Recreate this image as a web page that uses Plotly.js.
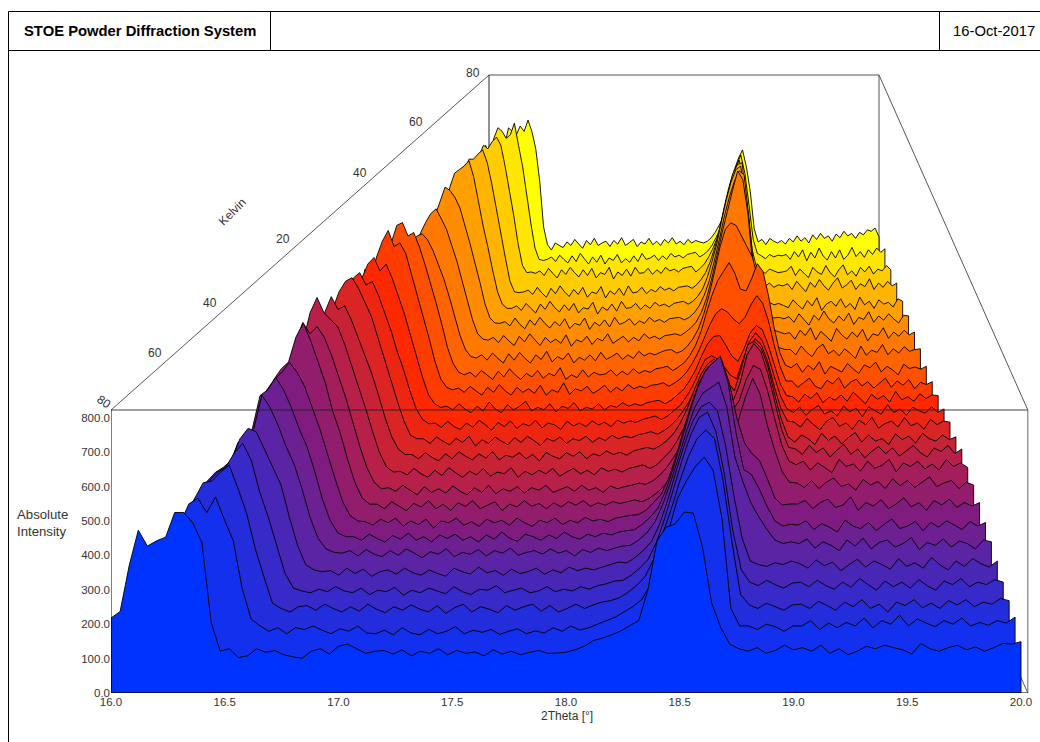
<!DOCTYPE html>
<html><head><meta charset="utf-8">
<script src="https://cdn.plot.ly/plotly-3.0.1.min.js"></script>
<style>html,body{margin:0;padding:0;background:#fff}#c{width:1040px;height:742px}</style></head>
<body><div id="c"></div><script>
const twoTheta=[16.00,16.04,16.08,16.12,16.16,16.20,16.24,16.28,16.32,16.36,16.40,16.44,16.48,16.52,16.56,16.60,16.64,16.68,16.72,
16.76,16.80,16.84,16.88,16.92,16.96,17.00,17.04,17.08,17.12,17.16,17.20,17.24,17.28,17.32,17.36,17.40,17.44,17.48,17.52,17.56,17.60,17.64,17.68,17.72,17.76,17.80,17.84,17.88,17.92,17.96,18.00,18.04,18.08,18.12,18.16,
18.20,18.24,18.28,18.32,18.36,18.40,18.44,18.48,18.52,18.56,18.60,18.64,18.68,18.72,18.76,18.80,18.84,18.88,18.92,18.96,19.00,
19.04,19.08,19.12,19.16,19.20,19.24,19.28,19.32,19.36,19.40,19.44,19.48,19.52,19.56,19.60,19.64,19.68,19.72,19.76,19.80,19.84,19.88,19.92,19.96,20.00];
const s00=[212,230,360,460,415,430,440,510,510,480,424,200,118,125,100,105,125,115,120,
108,102,98,118,125,110,132,138,125,112,118,120,110,122,105,118,112,125,108,120,112,116,105,122,110,118,108,115,120,112,113,115,122,132,148,155,
164,175,190,205,291,430,468,478,511,508,412,255,185,138,125,118,128,112,120,135,122,
128,118,135,112,125,108,118,132,125,135,128,122,110,140,125,118,128,135,122,130,118,128,140,138,145];
const s01=[215,225,340,380,385,400,440,495,511,470,514,450,390,255,170,150,135,145,128,
145,140,150,138,128,142,135,150,130,128,138,125,145,130,125,140,128,135,148,128,138,132,140,126,135,142,128,136,130,145,135,150,138,145,155,165,
175,190,205,225,270,330,420,510,560,600,627,590,455,200,150,150,140,155,148,135,150,
150,165,140,158,145,160,150,172,145,165,155,180,150,170,158,148,165,155,172,150,160,152,165,158,175];
const s02=[220,235,300,345,370,430,470,515,520,545,565,500,430,330,250,175,160,150,165,
168,155,172,160,150,165,152,172,158,148,165,155,170,158,150,168,146,162,172,150,165,158,148,168,155,165,172,152,168,150,160,172,160,170,178,182,
190,205,225,250,300,370,440,520,590,640,664,640,520,350,200,170,160,175,165,155,170,
172,160,180,168,155,178,165,185,160,172,150,178,168,185,162,175,160,182,170,185,165,178,172,188,182];
const s03=[225,240,300,360,420,450,480,505,520,560,587,540,450,380,300,220,178,170,165,
175,168,182,170,165,178,160,172,168,180,158,172,165,178,170,162,182,168,160,175,172,185,165,172,178,165,170,182,168,175,170,182,175,185,190,198,
200,215,235,260,310,380,460,540,610,660,675,620,500,340,230,195,185,200,188,178,192,
195,182,200,185,175,195,180,205,188,172,198,182,195,178,202,185,172,198,188,205,182,195,188,202,195];
const s04=[230,260,340,400,440,465,480,500,560,590,580,530,480,430,340,260,205,190,185,
188,175,195,180,192,172,185,190,178,195,182,175,190,180,172,195,185,178,198,182,188,175,192,180,185,195,178,190,182,198,188,195,190,198,205,212,
210,225,245,270,320,390,470,545,610,650,664,640,540,400,280,215,205,200,210,205,215,
208,195,218,202,212,188,205,220,198,215,205,192,222,200,210,195,225,205,190,215,200,222,208,198,215];
const s05=[235,250,350,410,435,450,510,530,550,644,610,560,500,450,380,300,240,210,200,
198,205,190,208,195,188,205,192,210,198,185,202,195,210,188,200,195,208,190,205,198,212,192,200,205,195,210,198,205,190,208,200,212,205,212,218,
220,235,255,285,335,400,470,545,610,650,665,681,610,470,400,340,300,265,235,225,230,
225,238,212,230,220,205,235,218,240,210,228,235,215,225,242,208,228,220,238,215,232,225,210,235,230];
const s06=[240,255,350,395,420,480,510,604,620,655,620,570,510,460,390,310,250,215,205,
205,195,212,200,190,208,198,215,195,205,190,210,200,212,195,205,190,210,198,218,200,192,212,205,195,210,200,218,205,198,212,205,215,210,218,222,
225,240,260,285,335,400,475,550,620,670,695,715,640,500,395,380,340,290,250,235,240,
238,250,225,242,232,218,252,235,228,245,222,240,255,228,235,248,222,245,232,250,238,225,248,235,245];
const s07=[240,260,360,420,450,510,580,610,630,658,630,590,530,470,400,330,265,225,210,
208,198,215,205,218,195,210,200,215,190,210,205,218,198,208,195,215,205,212,198,218,205,195,212,205,218,200,212,205,220,210,215,208,218,222,226,
228,240,262,285,330,395,470,540,600,640,660,665,600,500,430,400,380,330,275,255,258,
258,268,245,262,272,248,255,278,240,262,252,270,245,258,275,250,262,240,268,255,272,248,262,252,262];
const s08=[250,270,400,500,520,570,600,620,690,729,680,620,560,480,420,345,280,235,218,
218,205,225,212,200,220,210,228,205,218,200,222,212,228,205,215,225,200,218,210,228,212,220,205,222,210,225,215,228,212,222,215,225,220,225,230,
225,235,250,270,300,340,400,470,530,553,530,480,440,450,520,573,530,440,370,310,280,
278,265,285,262,280,292,268,275,258,288,272,282,262,290,270,285,265,280,295,268,278,285,262,280,272];
const s09=[250,275,410,530,530,570,640,692,660,680,650,600,540,480,410,340,280,240,222,
225,215,232,218,205,228,212,222,210,230,215,205,225,212,232,208,222,215,228,210,225,218,232,212,220,228,215,232,218,225,212,230,222,228,232,238,
235,245,262,285,315,350,410,470,520,545,530,480,440,470,530,570,560,500,420,345,300,
290,300,275,295,282,268,305,285,292,272,300,280,288,305,270,295,285,300,278,292,275,305,285,295,282];
const s10=[255,280,420,530,540,600,680,723,680,660,640,590,530,470,410,345,285,245,230,
232,222,240,225,215,235,220,242,228,215,232,222,240,218,230,225,242,215,232,222,235,225,240,218,230,240,225,235,222,242,232,238,230,240,245,250,
240,250,270,290,320,360,415,465,510,530,510,465,430,480,560,593,570,510,430,350,300,
295,280,305,285,298,272,292,308,280,295,270,288,302,282,298,275,290,305,285,272,298,288,305,282,295];
const s11=[260,280,420,570,540,590,640,686,650,660,620,570,520,470,410,345,290,255,240,
240,228,245,232,222,242,228,248,235,225,242,230,248,225,238,232,245,228,240,222,246,235,228,245,235,248,228,242,236,250,240,246,238,250,255,260,
255,265,280,300,330,370,420,465,495,510,490,445,420,480,550,560,540,490,410,340,290,
275,295,285,268,300,280,292,270,288,302,275,295,278,285,268,298,282,292,272,300,285,278,295,282,290];
const s12=[260,285,430,590,550,610,660,690,700,670,630,590,530,470,410,350,295,255,245,
245,232,250,238,228,246,235,252,225,242,232,250,238,228,248,235,252,240,226,246,238,250,232,245,240,252,235,248,240,255,245,252,248,256,260,265,
258,268,282,300,325,355,390,420,424,415,400,390,380,430,490,528,510,460,390,330,295,
292,278,302,285,270,295,305,280,290,272,298,285,305,275,288,295,278,305,282,290,272,300,285,295,292];
const s13=[265,290,425,580,545,610,660,675,640,650,610,560,510,450,400,340,290,260,248,
250,238,255,240,232,250,238,258,245,230,252,240,256,235,248,242,258,236,250,245,232,255,242,250,240,256,245,252,240,258,250,256,252,260,265,270,
260,270,285,300,325,355,395,430,440,430,410,385,375,430,480,505,485,440,380,325,290,
280,295,272,288,300,275,285,270,298,282,292,268,296,285,275,302,280,290,272,295,285,278,296,280,290];
const s14=[270,295,430,585,550,620,660,678,640,660,620,570,520,460,400,340,290,265,255,
258,248,265,250,240,258,245,270,250,240,262,248,258,272,245,255,248,265,242,258,252,268,245,255,250,265,248,260,255,268,258,265,260,268,272,275,
265,275,290,305,330,360,400,435,455,458,430,400,385,420,465,486,475,430,375,320,288,
285,270,292,280,296,268,284,275,290,272,298,282,265,292,278,288,270,300,276,285,272,293,280,290,288];
const s15=[280,300,440,605,570,640,685,715,670,680,650,590,530,470,410,345,295,272,265,
270,258,275,262,250,272,258,280,262,250,272,258,268,255,278,250,265,258,285,252,268,262,275,255,265,278,258,272,262,280,268,275,270,278,280,285,
275,285,297,315,340,372,410,450,480,494,485,465,452,470,505,531,510,460,390,330,290,
290,272,285,298,275,268,292,282,300,270,286,295,276,288,270,284,298,272,290,278,294,268,286,280,288];
const s16=[285,305,440,600,570,640,690,698,660,670,630,580,525,470,410,345,300,275,268,
275,262,280,268,255,278,262,285,268,255,272,262,280,258,272,265,288,255,268,260,282,262,275,268,270,282,265,278,268,285,272,280,275,285,288,292,
280,290,302,322,350,390,445,495,535,560,585,555,510,505,540,582,560,490,400,330,295,
288,300,275,295,282,305,270,292,284,276,300,285,272,296,288,304,276,292,282,268,298,286,290,284,292];
const s17=[290,310,430,550,530,570,600,620,627,610,580,540,500,450,395,340,300,280,276,
285,270,290,275,262,288,270,292,275,262,285,272,295,265,280,272,290,262,278,270,285,268,292,272,280,290,272,285,275,295,282,290,285,292,298,300,
290,296,310,330,358,400,455,520,590,640,658,650,620,590,560,500,420,345,320,305,300,
300,285,310,292,280,304,315,288,298,282,302,290,275,310,284,298,292,314,285,302,290,308,295,300,302];
const s18=[295,315,440,570,540,590,620,645,658,630,600,555,510,455,400,345,305,290,287,
295,280,300,285,272,298,282,305,288,272,295,280,290,278,302,270,288,282,298,275,292,285,305,278,288,298,282,295,285,305,292,298,290,300,302,305,
300,310,322,338,365,405,460,525,590,650,710,765,740,640,480,390,340,320,315,310,305,
308,290,315,300,322,288,312,298,284,320,302,290,310,296,318,285,305,300,322,292,310,298,315,302,310];
const s19=[300,325,450,550,560,600,640,680,670,650,620,570,520,465,410,350,310,296,295,
300,288,310,292,280,305,290,312,295,282,300,288,308,280,295,290,310,278,298,288,305,285,312,292,298,308,290,302,295,312,300,306,298,308,310,312,
305,312,325,345,375,415,470,530,595,650,695,726,715,590,440,350,325,315,310,312,308,
314,298,322,306,290,318,304,330,308,296,316,302,324,292,312,306,328,298,316,304,322,308,296,318,316];
const s20=[305,330,460,595,580,640,680,690,700,715,670,600,530,470,405,345,310,298,298,
305,292,312,298,285,310,295,318,300,288,308,292,312,285,300,296,315,282,302,292,310,290,318,298,300,312,295,308,298,315,305,310,302,312,315,318,
310,318,332,352,385,430,480,545,605,655,690,700,620,480,345,320,312,315,308,312,306,
300,322,308,296,320,305,328,292,310,318,304,325,300,312,295,330,308,318,298,322,310,315,302,325,318];
const s21=[310,335,470,620,590,650,680,680,695,706,670,610,540,470,400,335,305,303,305,
310,298,318,302,290,315,300,322,305,292,312,298,318,290,305,300,320,288,308,298,315,295,322,302,305,318,300,312,305,320,310,316,308,318,320,322,
315,325,340,360,390,430,480,540,595,640,665,670,560,430,335,325,320,330,318,325,322,
328,312,335,320,306,332,318,340,322,310,330,345,316,325,338,312,328,320,342,312,330,318,335,322,330];
const s22=[315,340,480,630,600,650,680,670,690,703,680,620,550,480,400,340,320,322,318,
325,312,332,318,305,328,315,335,320,308,328,312,332,305,320,315,335,302,322,312,330,310,335,318,320,332,315,328,318,335,325,330,322,332,335,338,
322,332,345,365,390,420,470,525,570,610,638,585,490,385,335,325,318,330,325,320,322,
325,338,312,330,318,306,335,322,315,340,320,308,328,342,314,325,310,335,322,338,316,330,325,340,328];
const s23=[320,345,490,640,610,660,690,680,660,670,703,640,580,500,420,350,318,315,318,
325,312,330,318,308,328,312,335,320,305,325,310,330,305,322,315,332,308,320,310,328,312,335,318,322,330,315,328,318,335,325,330,322,332,335,338,
325,332,342,358,380,405,450,505,545,585,613,560,470,375,335,328,320,332,325,330,328,
332,318,340,325,345,314,338,322,350,328,316,340,322,345,318,330,352,326,340,324,345,332,350,338,348];
const s24=[320,340,490,620,600,650,640,630,655,640,672,640,590,500,370,320,305,325,318,
312,328,318,335,322,310,332,320,338,318,325,330,315,332,322,340,318,326,335,315,328,322,338,320,330,318,335,325,340,322,330,320,335,325,332,328,
325,330,340,355,375,395,450,500,535,565,588,540,470,365,328,335,320,338,330,325,332,
322,338,328,345,330,340,325,348,335,352,338,345,330,350,340,358,345,352,338,355,348,362,358,367,342];
const allSeries=[s00,s01,s02,s03,s04,s05,s06,s07,s08,s09,s10,s11,s12,s13,s14,s15,s16,s17,s18,s19,s20,s21,s22,s23,s24];
const seriesColors=['#0033ff','#1230ed','#242ddb','#372ac8','#4927b6','#5b24a4','#6d2092','#801c80','#921d6d','#a41e5b','#b62049','#c82237','#db2424','#ed2612','#ff2800','#ff3c00','#ff5000','#ff6400','#ff7800','#ff8c00','#ffa000','#ffb400','#ffcc00','#ffe600','#ffff00'];
const yTicks=[0,100,200,300,400,500,600,700,800];
const xTicks=[16,16.5,17,17.5,18,18.5,19,19.5,20];
const kelvinLabels=['80','60','40','20','40','60','80'];
const kelvinPx=[[473,73],[416,122],[360,173],[283,239],[210,303],[155,353],[104,402]];

const L=111,R=1032,T=51,B=693,W=1040,H=742,pxPerDeg=227.5,pxPerUnit=0.344,heightCal=1.029;
const pxX=p=>16+(p-L)/pxPerDeg, pxY=p=>(B-p)/pxPerUnit;
const nK=allSeries.length-1;
const frameTop=283/pxPerUnit;
const pX=(th,k)=>16+(378/pxPerDeg)*(k/nK)+(th-16)*(1-(520/910)*(k/nK));
const pY=(v,k)=>v+(335/pxPerUnit)*(k/nK);
const traces=[];
const ln=(xs,ys,c,w)=>({type:'scatter',mode:'lines',x:xs,y:ys,line:{color:c,width:w||1,simplify:false},hoverinfo:'skip',showlegend:false,cliponaxis:false});
traces.push(ln([pX(16,0),pX(16,nK),pX(20,nK),pX(20.03,0)],[frameTop,pY(frameTop,nK),pY(frameTop,nK),frameTop],'#555',1));
traces.push(ln([pX(16,nK),pX(16,nK)],[pY(frameTop,nK),pY(0,nK)],'#222',1));
traces.push(ln([pX(20,nK),pX(20,nK)],[pY(frameTop,nK),pY(0,nK)],'#555',1));
traces.push(ln([pX(20.03,0),pX(20,nK)],[0,pY(0,nK)],'#555',1));
for(let k=nK;k>=0;k--){
  const s=allSeries[k];
  if(s.length!==twoTheta.length)console.error('series',k,s.length);
  const xs=[pX(16,k),...twoTheta.map(t=>pX(t,k)),pX(20,k),pX(16,k)];
  const ys=[pY(0,k),...s.map(v=>pY(v*heightCal,k)),pY(0,k),pY(0,k)];
  traces.push({type:'scatter',mode:'lines',x:xs,y:ys,fill:'toself',fillcolor:seriesColors[k],
    line:{color:'rgba(0,0,0,0.9)',width:1,simplify:false},hoverinfo:'skip',showlegend:false});
}
traces.push(ln([16,20.03],[frameTop,frameTop],'rgba(30,30,30,0.85)',1));
traces.push(ln([16,16],[0,frameTop],'#000',1));
traces.push(ln([20.03,20.03],[0,frameTop],'#666',1));
traces.push(ln([16,20.03],[0,0],'#000',1));

const px2paperX=p=>(p-L)/(R-L), px2paperY=p=>(B-p)/(B-T);
const rect=(x0,y0,x1,y1)=>({type:'line',xref:'paper',yref:'paper',x0:px2paperX(x0),y0:px2paperY(y0),x1:px2paperX(x1),y1:px2paperY(y1),line:{color:'#000',width:1}});
const shapes=[rect(8.5,11.5,1040,11.5),rect(8.5,50.5,1040,50.5),rect(8.5,11.5,8.5,742),rect(270.5,11.5,270.5,50.5),rect(939.5,11.5,939.5,50.5)];
const F='Liberation Sans, Arial, sans-serif';
const note=(txt,px,py,opt)=>Object.assign({text:txt,xref:'paper',yref:'paper',x:px2paperX(px),y:px2paperY(py),showarrow:false,xanchor:'center',yanchor:'middle',font:{family:F,size:12,color:'#333'}},opt||{});
const annotations=[
  note('<b>STOE Powder Diffraction System</b>',139.5,31,{font:{family:F,size:14.8,color:'#000'}}),
  note('16-Oct-2017',994,31,{font:{family:F,size:14.8,color:'#000'}}),
  note('Absolute<br>Intensity',15,523,{xanchor:'left',align:'left',font:{family:F,size:13.2,color:'#333'}}),
  note('2Theta [°]',567,716),
  note('Kelvin',232,212,{textangle:-45})
];
kelvinLabels.forEach((t,i)=>annotations.push(note(t,kelvinPx[i][0],kelvinPx[i][1],i===6?{textangle:35}:{})));

Plotly.newPlot('c',traces,{
  width:W,height:H,paper_bgcolor:'#fff',plot_bgcolor:'#fff',showlegend:false,
  margin:{l:L,r:W-R,t:T,b:H-B,pad:0},
  xaxis:{range:[pxX(L),pxX(R)],autorange:false,tickmode:'array',tickvals:xTicks,ticktext:xTicks.map(v=>v.toFixed(1)),showgrid:false,zeroline:false,showline:false,ticks:'',ticklen:0,tickangle:0,tickfont:{family:F,size:11.5,color:'#333'}},
  yaxis:{range:[pxY(B),pxY(T)],autorange:false,tickmode:'array',tickvals:yTicks,ticktext:yTicks.map(v=>v.toFixed(1)),showgrid:false,zeroline:false,showline:false,ticks:'',ticklen:0,tickfont:{family:F,size:11.5,color:'#333'}},
  shapes,annotations
},{staticPlot:true,displayModeBar:false});
</script></body></html>
